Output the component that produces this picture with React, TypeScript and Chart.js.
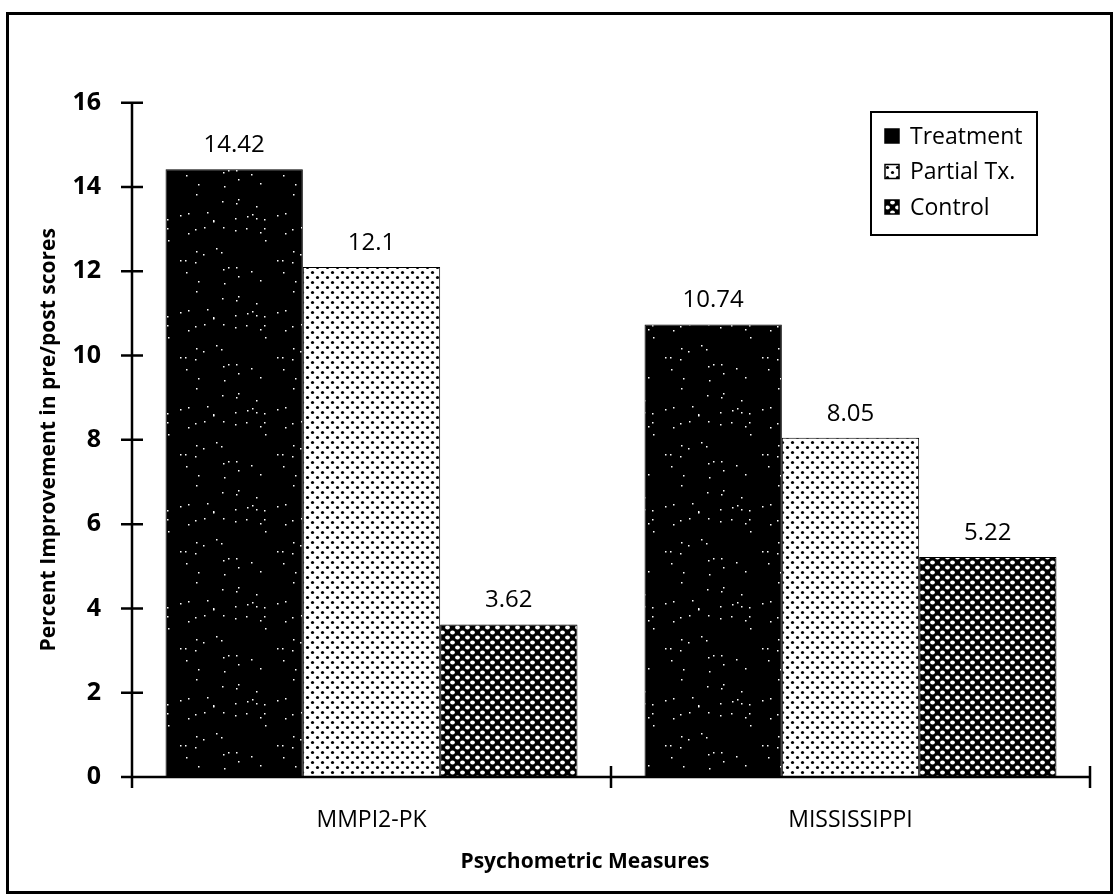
import { useEffect, useRef } from 'react';
import { Chart, registerables } from 'chart.js';

Chart.register(...registerables);

// ---- data ----
const categories = ['MMPI2-PK', 'MISSISSIPPI'];
const seriesNames = ['Treatment', 'Partial Tx.', 'Control'];
const treatment = [14.42, 10.74];
const partialTx = [12.1, 8.05];
const control = [3.62, 5.22];
const yTicks = [0, 2, 4, 6, 8, 10, 12, 14, 16];
const yTitle = 'Percent Improvement in pre/post scores';
const xTitle = 'Psychometric Measures';

const FONT = '"Open Sans", "DejaVu Sans", sans-serif';

type Fill = 'speckle' | 'dots' | 'holes';

function makePattern(kind: Fill): CanvasPattern {
  const c = document.createElement('canvas');
  const g = c.getContext('2d')!;
  if (kind === 'speckle') {
    // black with sparse, irregular white flecks
    const n = 97;
    c.width = n;
    c.height = n;
    g.fillStyle = '#000';
    g.fillRect(0, 0, n, n);
    g.fillStyle = '#fff';
    let s = 12345;
    for (let i = 0; i < 40; i++) {
      s = (s * 1103515245 + 12345) % 2147483648;
      const px = s % n;
      s = (s * 1103515245 + 12345) % 2147483648;
      const py = s % n;
      g.fillRect(px, py, 1.5, 1.5);
    }
  } else if (kind === 'dots') {
    c.width = 10;
    c.height = 10;
    g.fillStyle = '#fff';
    g.fillRect(0, 0, 10, 10);
    g.fillStyle = '#000';
    for (const [cx, cy] of [[2.5, 2.5], [7.5, 7.5]]) {
      g.beginPath();
      g.arc(cx, cy, 1.6, 0, Math.PI * 2);
      g.fill();
    }
  } else {
    c.width = 10;
    c.height = 10;
    g.fillStyle = '#000';
    g.fillRect(0, 0, 10, 10);
    g.fillStyle = '#fff';
    for (const [cx, cy] of [[2.5, 2.5], [7.5, 7.5]]) {
      g.beginPath();
      g.ellipse(cx, cy, 2.4, 1.9, 0, 0, Math.PI * 2);
      g.fill();
    }
  }
  return g.createPattern(c, 'repeat')!;
}

const decorPlugin = {
  id: 'decor',
  afterDatasetsDraw(chart: any) {
    const { ctx, chartArea: ca, scales } = chart;
    const ys = scales.y;
    const x0 = ca.left;
    const y0 = ys.getPixelForValue(0);
    ctx.save();

    // axes and cross ticks
    ctx.strokeStyle = '#000';
    ctx.lineWidth = 2.5;
    ctx.beginPath();
    ctx.moveTo(x0, ys.getPixelForValue(yTicks[yTicks.length - 1]));
    ctx.lineTo(x0, y0 + 11);
    ctx.moveTo(x0 - 10, y0);
    ctx.lineTo(ca.right, y0);
    yTicks.forEach((v) => {
      const py = ys.getPixelForValue(v);
      ctx.moveTo(x0 - 11, py);
      ctx.lineTo(x0 + 11, py);
    });
    for (let i = 1; i <= categories.length; i++) {
      const px = ca.left + ((ca.right - ca.left) * i) / categories.length;
      ctx.moveTo(px, y0 - 11);
      ctx.lineTo(px, y0 + 11);
    }
    ctx.stroke();

    // value labels above bars
    ctx.fillStyle = '#000';
    ctx.font = `24px ${FONT}`;
    ctx.textAlign = 'center';
    ctx.textBaseline = 'bottom';
    chart.data.datasets.forEach((ds: any, di: number) => {
      const meta = chart.getDatasetMeta(di);
      meta.data.forEach((bar: any, i: number) => {
        ctx.fillText(String(ds.data[i]), bar.x, bar.y - 12);
      });
    });

    // legend box
    const lx = 871;
    const ly = 112;
    const lw = 166;
    const lh = 123;
    ctx.lineWidth = 2;
    ctx.strokeRect(lx, ly, lw, lh);
    ctx.font = `23px ${FONT}`;
    ctx.textAlign = 'left';
    ctx.textBaseline = 'middle';
    chart.data.datasets.forEach((ds: any, di: number) => {
      const cy = ly + 24 + di * 35.5;
      ctx.fillStyle = ds.backgroundColor;
      ctx.fillRect(lx + 14, cy - 7, 14, 14);
      ctx.lineWidth = 1.5;
      ctx.strokeRect(lx + 14, cy - 7, 14, 14);
      ctx.fillStyle = '#000';
      ctx.fillText(ds.label, lx + 39, cy + 1);
    });

    // x-axis title
    ctx.font = `bold 21px ${FONT}`;
    ctx.textAlign = 'center';
    ctx.fillText(xTitle, (ca.left + ca.right) / 2 - 26, chart.height - 34);

    // outer frame
    ctx.lineWidth = 3;
    ctx.strokeRect(7.5, 13.5, 1104, 879);
    ctx.restore();
  },
};

export default function App() {
  const ref = useRef<HTMLCanvasElement>(null);

  useEffect(() => {
    const canvas = ref.current!;
    const fills = [makePattern('speckle'), makePattern('dots'), makePattern('holes')];
    const values = [treatment, partialTx, control];
    const chart = new Chart(canvas, {
      type: 'bar',
      data: {
        labels: categories,
        datasets: seriesNames.map((name, i) => ({
          label: name,
          data: values[i],
          backgroundColor: fills[i] as any,
          borderColor: '#000',
          borderWidth: 1,
          categoryPercentage: 0.86,
          barPercentage: 1,
        })),
      },
      options: {
        animation: false,
        responsive: false,
        devicePixelRatio: 1,
        layout: { padding: { top: 102.7, right: 29, left: 0, bottom: 0 } },
        plugins: {
          legend: { display: false },
          tooltip: { enabled: false },
        },
        scales: {
          x: {
            grid: { display: false, drawTicks: false },
            border: { display: false },
            ticks: { color: '#000', font: { family: FONT, size: 23 }, padding: 30 },
            afterFit: (s: any) => {
              s.height = 119;
            },
          },
          y: {
            min: 0,
            max: 16,
            grid: { display: false, drawTicks: false },
            border: { display: false },
            ticks: {
              stepSize: 2,
              color: '#000',
              font: { family: FONT, size: 25, weight: 'bold' },
              padding: 31,
            },
            title: {
              display: true,
              text: yTitle,
              color: '#000',
              font: { family: FONT, size: 21, weight: 'bold' },
              padding: { top: 36, bottom: 0 },
            },
            afterFit: (s: any) => {
              s.width = 132;
            },
          },
        },
      },
      plugins: [decorPlugin],
    });
    return () => chart.destroy();
  }, []);

  return (
    <div style={{ position: 'absolute', left: 0, top: 0, width: 1119, height: 896, background: '#fff' }}>
      <canvas ref={ref} width={1119} height={896} style={{ display: 'block' }} />
    </div>
  );
}
